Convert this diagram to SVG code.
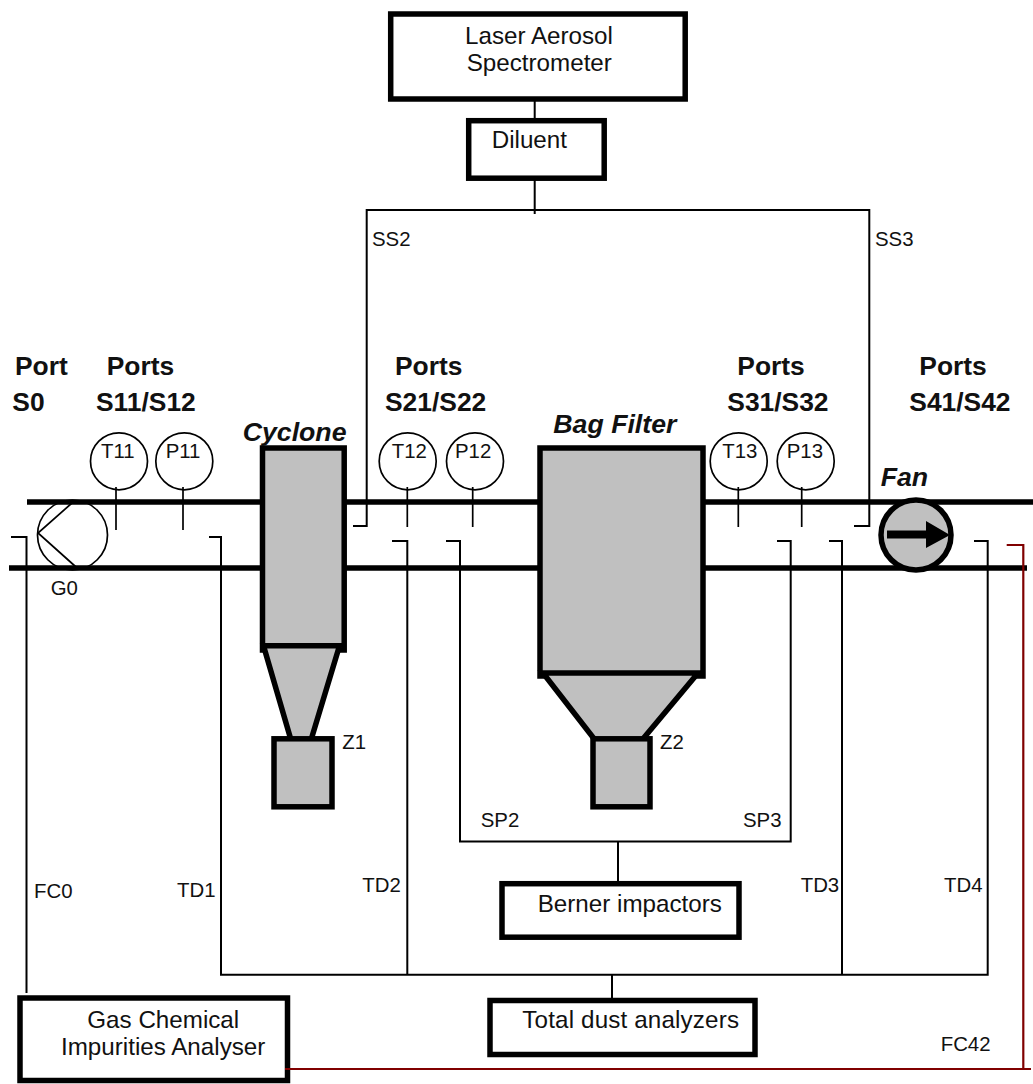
<svg xmlns="http://www.w3.org/2000/svg" width="1033" height="1084" viewBox="0 0 1033 1084">
<style>
text{font-family:"Liberation Sans",Arial,sans-serif;fill:#111}
.s{font-size:20.4px}
.m{font-size:24.2px}
.b{font-size:26.4px;font-weight:bold}
.bi{font-size:26.7px;font-weight:bold;font-style:italic}
.box{fill:#fff;stroke:#000;stroke-width:5.5}
.eq{fill:#c0c0c0;stroke:#000;stroke-width:5.5}
.ins{fill:#fff;stroke:#000;stroke-width:1.7}
.stem{fill:none;stroke:#000;stroke-width:1.7}
.pipe{fill:none;stroke:#000;stroke-width:5.5}
.line{fill:none;stroke:#000;stroke-width:2}
.red{fill:none;stroke:#800000;stroke-width:2.2}
</style>
<rect width="1033" height="1084" fill="#fff"/>
<g id="G0">
<circle class="ins" cx="72.5" cy="535" r="35"/>
<path class="stem" d="M72 503L38 533L76 567"/>
<text class="s" x="50.7" y="595">G0</text>
</g>
<g id="pipes">
<path class="pipe" d="M27 502H1033M9 568H1027"/>
</g>
<g id="GasChemicalImpuritiesAnalyser">
<rect class="box" x="20" y="998" width="267.5" height="82.5"/>
<text class="m" x="87.3" y="1027.7">Gas Chemical</text>
<text class="m" x="61" y="1055">Impurities Analyser</text>
</g>
<g id="connectors">
<path class="line" d="M11 537H26.5V993"/>
<path class="line" d="M209 537H221V974.7H987.7V541H974"/>
<path class="line" d="M392 541H407.3V974.7"/>
<path class="line" d="M829 541H842V974.7"/>
<path class="line" d="M446 541H460V841.5H790.7V541H777"/>
<path class="line" d="M618 841.5V883"/>
<path class="line" d="M612 974.7V999"/>
<path class="line" d="M353 526H366.7V210H869.3V526H854"/>
<path class="line" d="M534.7 94V119M534.7 174V214"/>
<path class="red" d="M285 1069H1031M1006.7 545H1023.3V1069"/>
</g>
<g id="T11"><circle class="ins" cx="119" cy="461.3" r="28.5"/><path class="stem" d="M116 487V530"/><text class="s" x="101" y="457.7">T11</text></g>
<g id="P11"><circle class="ins" cx="184.3" cy="461.3" r="28.5"/><path class="stem" d="M183 487V530"/><text class="s" x="165.7" y="457.7">P11</text></g>
<g id="T12"><circle class="ins" cx="407.7" cy="461.3" r="28.5"/><path class="stem" d="M407.3 487V527"/><text class="s" x="391.7" y="457.7">T12</text></g>
<g id="P12"><circle class="ins" cx="475" cy="461.3" r="28.5"/><path class="stem" d="M472.7 487V527"/><text class="s" x="455" y="457.7">P12</text></g>
<g id="T13"><circle class="ins" cx="738.7" cy="461.3" r="28.5"/><path class="stem" d="M738.3 487V527"/><text class="s" x="722.3" y="457.7">T13</text></g>
<g id="P13"><circle class="ins" cx="805.7" cy="461.3" r="28.5"/><path class="stem" d="M801.7 487V527"/><text class="s" x="786.7" y="457.7">P13</text></g>
<g id="Cyclone">
<rect class="eq" x="262.5" y="448" width="81.7" height="202"/>
<path class="eq" d="M263.5 645.8H339.5L311 740H291Z"/>
<rect class="eq" x="274" y="738.8" width="58" height="68"/>
<text class="bi" x="242.7" y="441">Cyclone</text>
<text class="s" x="342.3" y="749.3">Z1</text>
</g>
<g id="BagFilter">
<rect class="eq" x="540" y="448" width="163" height="228"/>
<path class="eq" d="M543 673H698L642 740H595Z"/>
<rect class="eq" x="593" y="738.8" width="57" height="68"/>
<text class="bi" x="553.3" y="432.7">Bag Filter</text>
<text class="s" x="660" y="749.3">Z2</text>
</g>
<g id="Fan">
<circle class="eq" cx="916" cy="535" r="35"/>
<path d="M887 530.5H926V521L950 535L926 548V538.5H887Z" fill="#000"/>
<text class="bi" x="880.7" y="485.7">Fan</text>
</g>
<g id="LaserAerosolSpectrometer">
<rect class="box" x="390.7" y="14" width="294.5" height="85"/>
<text class="m" x="465" y="44">Laser Aerosol</text>
<text class="m" x="466.7" y="71">Spectrometer</text>
</g>
<g id="Diluent">
<rect class="box" x="468.7" y="120.7" width="135.5" height="57.5"/>
<text class="m" x="491.7" y="148">Diluent</text>
</g>
<g id="BernerImpactors">
<rect class="box" x="502" y="883.7" width="237" height="53.5"/>
<text class="m" x="537.7" y="911.7">Berner impactors</text>
</g>
<g id="TotalDustAnalyzers">
<rect class="box" x="490" y="1000.5" width="265" height="54"/>
<text class="m" x="522.3" y="1027.7" textLength="216.7" lengthAdjust="spacing">Total dust analyzers</text>
</g>
<g id="labels">
<text class="b" x="15" y="375">Port</text>
<text class="b" x="12.3" y="410.7">S0</text>
<text class="b" x="106.7" y="375">Ports</text>
<text class="b" x="96" y="410.7">S11/S12</text>
<text class="b" x="395" y="375">Ports</text>
<text class="b" x="385" y="410.7">S21/S22</text>
<text class="b" x="737.3" y="375">Ports</text>
<text class="b" x="727.3" y="410.7">S31/S32</text>
<text class="b" x="919.3" y="375">Ports</text>
<text class="b" x="909.3" y="410.7">S41/S42</text>
<text class="s" x="372" y="246">SS2</text>
<text class="s" x="875" y="246">SS3</text>
<text class="s" x="480.7" y="826.7">SP2</text>
<text class="s" x="743" y="826.7">SP3</text>
<text class="s" x="34" y="898">FC0</text>
<text class="s" x="177" y="897">TD1</text>
<text class="s" x="362.3" y="891.7">TD2</text>
<text class="s" x="800.7" y="891.7">TD3</text>
<text class="s" x="944" y="891.7">TD4</text>
<text class="s" x="940.7" y="1050.7">FC42</text>
</g>
</svg>
